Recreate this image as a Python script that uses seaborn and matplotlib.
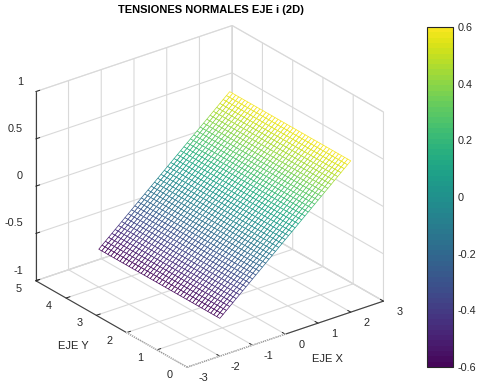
import numpy as np
import matplotlib
matplotlib.use('Agg')
import matplotlib.pyplot as plt
import seaborn as sns
from mpl_toolkits.mplot3d import proj3d

# values: x, y grid, height along x
x_vals = [-2.0, -1.9, -1.8, -1.7, -1.6, -1.5, -1.4, -1.3, -1.2, -1.1, -1.0, -0.9, -0.8, -0.7,
          -0.6, -0.5, -0.4, -0.3, -0.2, -0.1, 0.0, 0.1, 0.2, 0.3, 0.4, 0.5, 0.6, 0.7,
          0.8, 0.9, 1.0, 1.1, 1.2, 1.3, 1.4, 1.5, 1.6, 1.7, 1.8, 1.9, 2.0]
y_vals = [0.0, 0.1, 0.2, 0.3, 0.4, 0.5, 0.6, 0.7, 0.8, 0.9, 1.0, 1.1, 1.2, 1.3,
          1.4, 1.5, 1.6, 1.7, 1.8, 1.9, 2.0, 2.1, 2.2, 2.3, 2.4, 2.5, 2.6, 2.7,
          2.8, 2.9, 3.0, 3.1, 3.2, 3.3, 3.4, 3.5, 3.6, 3.7, 3.8, 3.9, 4.0]
z_vals = [-0.60, -0.57, -0.54, -0.51, -0.48, -0.45, -0.42, -0.39, -0.36, -0.33, -0.30, -0.27, -0.24, -0.21,
          -0.18, -0.15, -0.12, -0.09, -0.06, -0.03, 0.00, 0.03, 0.06, 0.09, 0.12, 0.15, 0.18, 0.21,
          0.24, 0.27, 0.30, 0.33, 0.36, 0.39, 0.42, 0.45, 0.48, 0.51, 0.54, 0.57, 0.60]

x_ticks = [-3, -2, -1, 0, 1, 2, 3]
y_ticks = [0, 1, 2, 3, 4, 5]
z_ticks = [-1, -0.5, 0, 0.5, 1]
z_labels = ['-1', '-0.5', '0', '0.5', '1']
bar_ticks = [-0.6, -0.4, -0.2, 0, 0.2, 0.4, 0.6]
bar_labels = ['-0.6', '-0.4', '-0.2', '0', '0.2', '0.4', '0.6']

W, H = 485, 389
TXT = '#262626'
GRID = '#d9d9d9'

sns.set_style('white')
plt.rcParams['font.family'] = ['Liberation Sans', 'DejaVu Sans']
plt.rcParams['axes.unicode_minus'] = False
plt.rcParams['font.size'] = 7.8

cmap = matplotlib.colors.ListedColormap(sns.color_palette('viridis', 64))
norm = matplotlib.colors.Normalize(-0.6, 0.6)

fig = plt.figure(figsize=(W / 100, H / 100), dpi=100)

# square box centred on the projected cube
cx, cy, side = 204.5, 201.5, 380
ax = fig.add_axes([(cx - side / 2) / W, 1 - (cy + side / 2) / H, side / W, side / H], projection='3d')
ax.set_proj_type('ortho')
ax.view_init(elev=26, azim=-127.5)
ax.set_box_aspect((247, 248, 210), zoom=1.045)
ax.patch.set_alpha(0)

X, Y = np.meshgrid(x_vals, y_vals)
Z = np.tile(z_vals, (len(y_vals), 1))
cell_z = ((Z[:-1, :-1] + Z[1:, :-1] + Z[:-1, 1:] + Z[1:, 1:]) / 4).ravel()
white = np.ones(Z[:-1, :-1].shape + (4,))
surf = ax.plot_surface(X, Y, Z, rstride=1, cstride=1, facecolors=white, shade=False, linewidth=0.5)
surf.set_edgecolor(cmap(norm(cell_z)))

# front half of the two floor axes comes out pale and dotted
for xs, ys in [([-3, 0], [0, 0]), ([-3, -3], [0, 2])]:
    ax.plot(xs, ys, [-1, -1], color='white', lw=1.1, zorder=5)
    ax.plot(xs, ys, [-1, -1], color='#8c8c8c', lw=0.8, ls=(0, (1, 1)), zorder=6)

ax.set_xlim(-3, 3, view_margin=0)
ax.set_ylim(0, 5, view_margin=0)
ax.set_zlim(-1, 1, view_margin=0)
ax.set_xticks(x_ticks)
ax.set_yticks(y_ticks)
ax.set_zticks(z_ticks)
ax.set_xticklabels([])
ax.set_yticklabels([])
ax.set_zticklabels([])

for axis in (ax.xaxis, ax.yaxis, ax.zaxis):
    axis.pane.set_facecolor('white')
    axis.pane.set_edgecolor('#c8c8c8')
    axis.pane.set_linewidth(0.8)
    axis.line.set_color('#404040')
    axis.line.set_linewidth(0.8)
    axis._axinfo['grid']['color'] = GRID
    axis._axinfo['grid']['linewidth'] = 0.8
    axis._axinfo['tick']['inward_factor'] = 0.0
    axis._axinfo['tick']['outward_factor'] = 0.25
    axis._axinfo['tick']['linewidth'] = {True: 0.7, False: 0.7}
    axis._axinfo['tick']['color'] = 'black'

# tick labels sit further from the ticks than mplot3d allows, so place them from the projected tick
fig.canvas.draw()


def tick_text(x, y, z, label, dx, dy, ha='center'):
    px, py, _ = proj3d.proj_transform(x, y, z, ax.get_proj())
    px, py = ax.transData.transform((px, py))
    fig.text((px + dx) / W, (py - dy) / H, label, ha=ha, va='center', fontsize=7.8, color=TXT)


for t in x_ticks:
    tick_text(t, 0, -1, str(t), 16, 11)
for t in y_ticks:
    tick_text(-3, t, -1, str(t), -17, 8)
for t, lab in zip(z_ticks, z_labels):
    tick_text(-3, 5, t, lab, -13, -10, ha='right')

fig.text(210.5 / W, 1 - 10 / H, 'TENSIONES NORMALES EJE i (2D)', ha='center', va='center',
         fontsize=8, fontweight='bold', color='black')
fig.text(73 / W, 1 - 346 / H, 'EJE Y', ha='center', va='center', fontsize=8, color=TXT)
fig.text(327 / W, 1 - 359 / H, 'EJE X', ha='center', va='center', fontsize=8, color=TXT)

cax = fig.add_axes([427 / W, 1 - 367 / H, 26 / W, 340 / H])
cb = fig.colorbar(matplotlib.cm.ScalarMappable(norm=norm, cmap=cmap), cax=cax)
cb.set_ticks(bar_ticks)
cb.set_ticklabels(bar_labels)
cb.ax.tick_params(direction='in', left=True, right=True, length=2.5, width=0.7, color='#262626',
                  labelsize=7.8, labelcolor=TXT, pad=3)
cb.outline.set_edgecolor('#262626')
cb.outline.set_linewidth(0.8)

fig.savefig('out.png', dpi=100)
